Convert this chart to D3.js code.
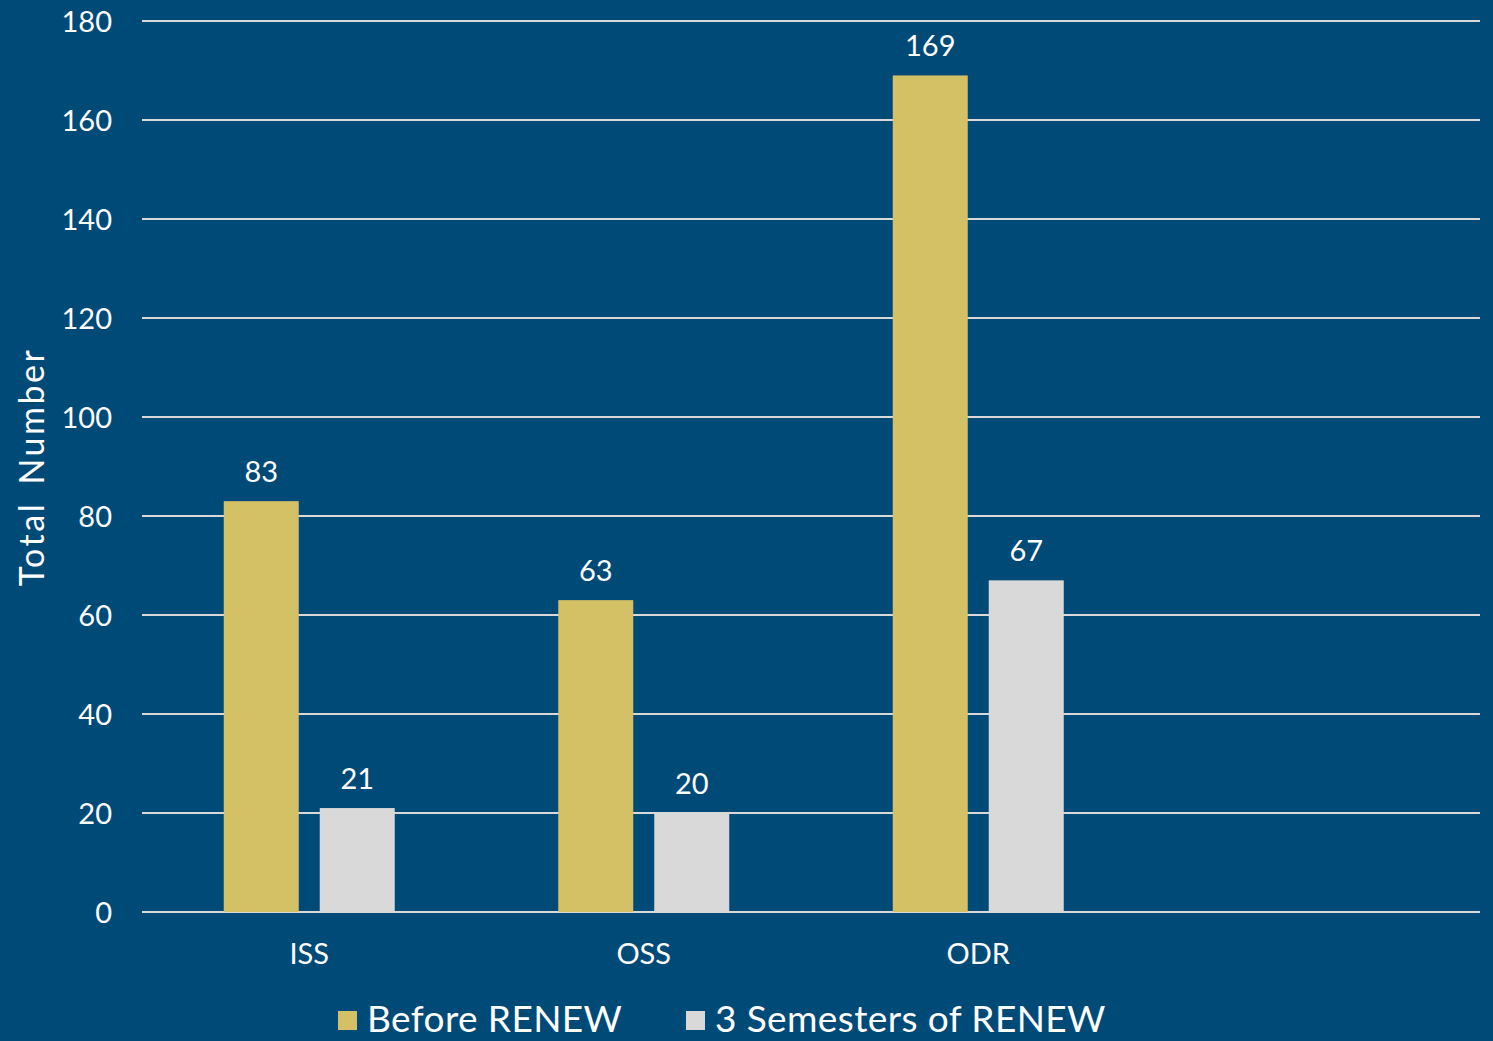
<!DOCTYPE html>
<html><head><meta charset="utf-8">
<script src="https://cdn.jsdelivr.net/npm/d3@7"></script>
<style>html,body{margin:0;padding:0;background:#004a78;}svg{display:block;}</style>
</head><body>
<script>
const categories = ["ISS", "OSS", "ODR", ""];
const seriesNames = ["Before RENEW", "3 Semesters of RENEW"];
const beforeValues = [83, 63, 169, null];
const afterValues = [21, 20, 67, null];
const yTicks = [0, 20, 40, 60, 80, 100, 120, 140, 160, 180];
const colors = ["#d4c166", "#d9d9d9"];

const W = 1493, H = 1041;
const font = "Lato, 'Open Sans', sans-serif";
const svg = d3.select("body").append("svg").attr("width", W).attr("height", H);
svg.append("rect").attr("width", W).attr("height", H).attr("fill", "#004a78");

const x = d3.scaleBand().domain(categories).range([142, 1480]).padding(0);
const y = d3.scaleLinear().domain([0, 180]).range([912, 21]);
const xs = d3.scaleBand().domain(seriesNames).range([0, x.bandwidth()]).paddingInner(0.21875).paddingOuter(0.8516);

// gridlines
svg.append("g").selectAll("line").data(yTicks).join("line")
  .attr("x1", 142).attr("x2", 1480)
  .attr("y1", d => y(d)).attr("y2", d => y(d))
  .attr("stroke", "#d9d9d9").attr("stroke-width", 2);

// y axis
const yAxis = d3.axisLeft(y).tickValues(yTicks).tickSize(0).tickPadding(0);
const gy = svg.append("g").attr("transform", "translate(112,0)").call(yAxis);
gy.select(".domain").remove();
gy.selectAll("text").attr("fill", "#fff").attr("font-family", font).attr("font-size", 29).attr("dy", "0.35em");

// x axis labels
const xAxis = d3.axisBottom(x).tickSize(0).tickPadding(0);
const gx = svg.append("g").attr("transform", "translate(0,943)").call(xAxis);
gx.select(".domain").remove();
gx.selectAll("text").attr("fill", "#fff").attr("font-family", font).attr("font-size", 29).attr("dy", "0.71em");

const data = categories.map((c, i) => ({ c, vals: [beforeValues[i], afterValues[i]] }));
const groups = svg.append("g").selectAll("g").data(data).join("g")
  .attr("transform", d => `translate(${x(d.c)},0)`);
const bars = groups.selectAll("g").data(d => d.vals.map((v, j) => ({ v, s: seriesNames[j], j })).filter(e => e.v !== null)).join("g");
bars.append("rect")
  .attr("x", e => xs(e.s)).attr("width", xs.bandwidth())
  .attr("y", e => y(e.v)).attr("height", e => y(0) - y(e.v))
  .attr("fill", e => colors[e.j]);
bars.append("text")
  .attr("x", e => xs(e.s) + xs.bandwidth() / 2).attr("y", e => y(e.v) - 19)
  .attr("text-anchor", "middle").attr("fill", "#fff")
  .attr("font-family", font).attr("font-size", 29).text(e => e.v);

// axis title
svg.append("text").attr("transform", "translate(44,467) rotate(-90)")
  .attr("text-anchor", "middle").attr("fill", "#fff")
  .attr("font-family", font).attr("font-size", 34).attr("letter-spacing", 2.5)
  .attr("word-spacing", 6).text("Total Number");

// legend
const legendX = [338, 686];
const lg = svg.append("g").selectAll("g").data(seriesNames).join("g")
  .attr("transform", (d, i) => `translate(${legendX[i]},1011)`);
lg.append("rect").attr("width", 19).attr("height", 19).attr("fill", (d, i) => colors[i]);
lg.append("text").attr("x", 29).attr("y", 21).attr("fill", "#fff")
  .attr("font-family", font).attr("font-size", 37).attr("letter-spacing", 0.4).text(d => d);
</script>
</body></html>
